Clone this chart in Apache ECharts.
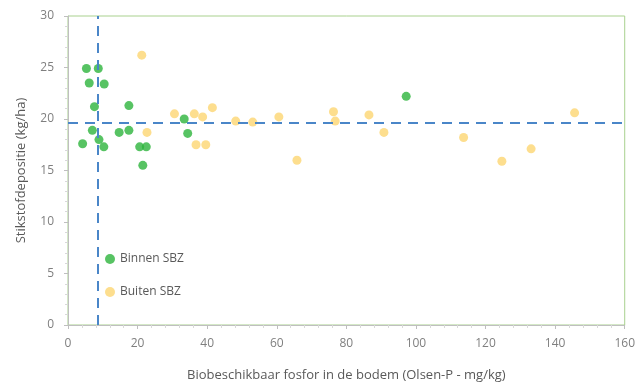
<!DOCTYPE html>
<html><head><meta charset="utf-8">
<script src="https://cdn.jsdelivr.net/npm/echarts@6/dist/echarts.min.js"></script>
<style>html,body{margin:0;padding:0;background:#fff}#c{width:638px;height:387px}</style>
</head><body><div id="c"></div>
<script>
const binnenX = [5.3, 8.7, 6.1, 10.4, 7.6, 17.5, 33.4, 7.0, 14.7, 17.5, 34.4, 4.2, 8.9, 10.3, 20.6, 22.5, 21.5, 97.2];
const binnenY = [24.9, 24.9, 23.5, 23.4, 21.2, 21.3, 20.0, 18.9, 18.7, 18.9, 18.6, 17.6, 18.0, 17.3, 17.3, 17.3, 15.5, 22.2];
const buitenX = [21.2, 22.7, 30.6, 36.3, 38.7, 41.5, 36.8, 39.6, 48.2, 53.1, 60.6, 65.8, 76.3, 76.8, 86.5, 90.8, 113.7, 124.7, 133.1, 145.6];
const buitenY = [26.2, 18.7, 20.5, 20.5, 20.2, 21.1, 17.5, 17.5, 19.8, 19.7, 20.2, 16.0, 20.7, 19.8, 20.4, 18.7, 18.2, 15.9, 17.1, 20.6];
const thresholdX = 8.5;
const thresholdY = 19.6;
const xTicks = [0, 20, 40, 60, 80, 100, 120, 140, 160];
const yTicks = [0, 5, 10, 15, 20, 25, 30];

const zip = (a, b) => a.map((v, i) => [v, b[i]]);
const chart = echarts.init(document.getElementById('c'));
const font = 'Open Sans, Liberation Sans, sans-serif';
chart.setOption({
  animation: false,
  grid: { left: 68, right: 8, top: 16, bottom: 62, show: true, borderColor: '#a9d18e', borderWidth: 1 },
  legend: {
    orient: 'vertical', left: 100, top: 248, itemGap: 21, itemWidth: 10, itemHeight: 10,
    icon: 'circle', textStyle: { color: '#595959', fontSize: 12, fontFamily: font },
    data: ['Binnen SBZ', 'Buiten SBZ']
  },
  xAxis: {
    type: 'value', min: xTicks[0], max: xTicks[xTicks.length - 1], interval: 20,
    name: 'Biobeschikbaar fosfor in de bodem (Olsen-P - mg/kg)', nameLocation: 'middle', nameGap: 44,
    nameTextStyle: { color: '#595959', fontSize: 13, fontFamily: font },
    axisLine: { lineStyle: { color: '#bfbfbf' } },
    axisTick: { show: true, length: 4, lineStyle: { color: '#bfbfbf' } },
    minorTick: { show: true, splitNumber: 5, length: 3, lineStyle: { color: '#d9d9d9' } },
    axisLabel: { color: '#7f7f7f', fontSize: 12, fontFamily: font, margin: 13 },
    splitLine: { show: false }
  },
  yAxis: {
    type: 'value', min: yTicks[0], max: yTicks[yTicks.length - 1], interval: 5,
    name: 'Stikstofdepositie (kg/ha)', nameLocation: 'middle', nameGap: 40,
    nameTextStyle: { color: '#595959', fontSize: 13, fontFamily: font },
    axisLine: { show: true, lineStyle: { color: '#bfbfbf' } },
    axisTick: { show: true, length: 4, lineStyle: { color: '#bfbfbf' } },
    minorTick: { show: true, splitNumber: 5, length: 3, lineStyle: { color: '#d9d9d9' } },
    axisLabel: { color: '#7f7f7f', fontSize: 12, fontFamily: font, margin: 14 },
    splitLine: { show: false }
  },
  series: [
    {
      name: 'Buiten SBZ', type: 'scatter', symbolSize: 9, z: 2,
      itemStyle: { color: '#fdd672' },
      data: zip(buitenX, buitenY)
    },
    {
      name: 'Binnen SBZ', type: 'scatter', symbolSize: 9, z: 3,
      itemStyle: { color: '#2db43c' },
      data: zip(binnenX, binnenY),
      markLine: {
        silent: true, symbol: 'none', label: { show: false }, z: 5,
        lineStyle: { color: '#4a86c8', width: 2, type: [10, 7] },
        data: [{ xAxis: thresholdX }, { yAxis: thresholdY }]
      }
    }
  ]
});
</script></body></html>
